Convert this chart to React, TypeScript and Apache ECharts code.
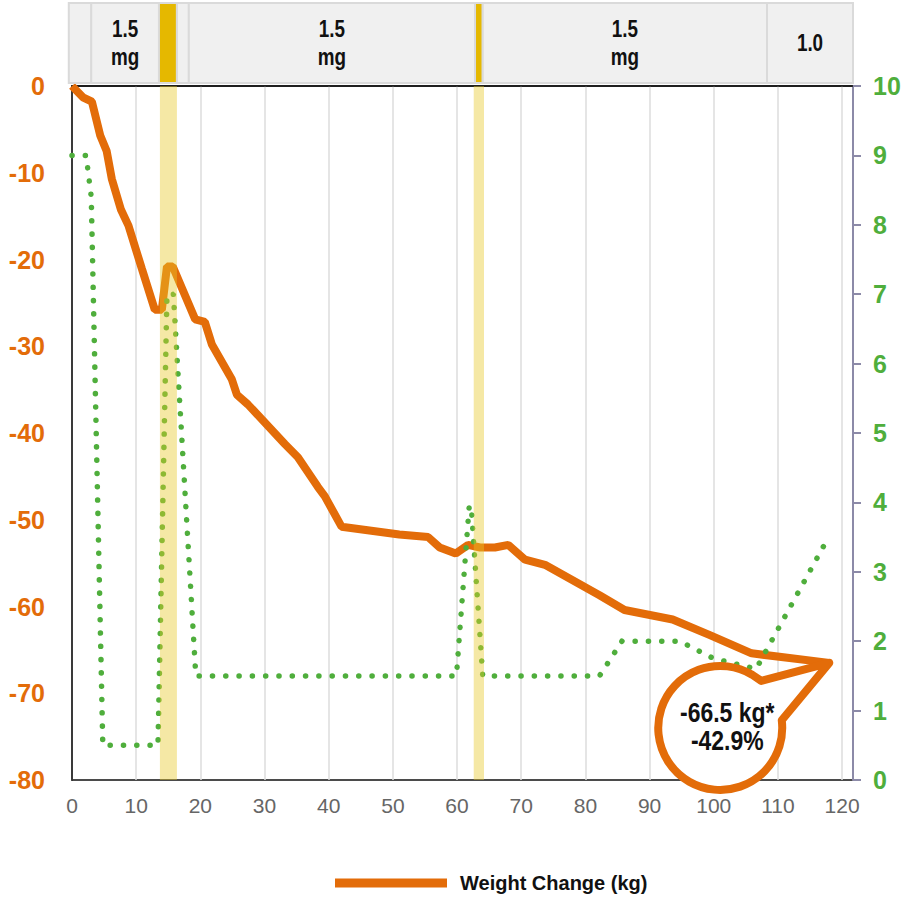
import React, { useEffect, useRef } from "react";
import * as echarts from "echarts";

const FONT = '"Liberation Sans", Arial, sans-serif';
const ORANGE = "#e36c09";
const GREEN = "#4fae3c";
const NARROW = 0.82;

// Weight change (kg) – left axis
const weightX = [0, 1.7, 3.1, 4.4, 5.4, 6.2, 7.6, 8.8, 10.9, 12.9, 14.0, 14.8, 15.7, 19.2, 20.7, 21.8, 24.9, 25.7, 27.4, 33.2, 35.2, 38.3, 39.4, 42.0, 51.0, 55.5, 57.3, 59.8, 61.7, 63.6, 65.9, 68.0, 70.6, 73.7, 82.2, 86.1, 93.6, 99.4, 105.9, 118.0];
const weightY = [0, -1.3, -1.8, -5.7, -7.5, -10.7, -14.2, -16.1, -21.1, -25.8, -25.8, -20.8, -20.8, -26.9, -27.2, -29.8, -33.8, -35.6, -36.7, -41.3, -42.8, -46.2, -47.3, -50.8, -51.7, -52.0, -53.2, -53.9, -52.9, -53.2, -53.2, -52.9, -54.6, -55.2, -58.7, -60.4, -61.5, -63.3, -65.4, -66.5];

// Secondary (right axis 0–10) dotted series
const doseX = [0, 2.2, 3.0, 4.8, 13.4, 14.8, 15.8, 19.3, 59.9, 61.9, 62.2, 64.0, 82.2, 85.7, 94.7, 100.0, 106.6, 117.3];
const doseY = [9.0, 9.0, 8.4, 0.5, 0.5, 7.0, 7.0, 1.5, 1.5, 3.95, 3.95, 1.5, 1.5, 2.0, 2.0, 1.75, 1.6, 3.4];

// Header cells
const headerStarts = [-0.5, 3.0, 13.55, 16.35, 18.2, 62.8, 64.0, 108.3];
const headerEnds = [3.0, 13.55, 16.35, 18.2, 62.8, 64.0, 108.3, 121.7];
const headerLabels = ["", "1.5\nmg", "", "", "1.5\nmg", "", "1.5\nmg", "1.0"];
const headerKinds = ["dose", "dose", "switch", "dose", "dose", "switch", "dose", "dose"];

// Highlight bands
const bandStarts = [13.7, 62.6];
const bandEnds = [16.35, 64.2];

// Callout
const calloutPoint = [118, -66.5];
const calloutLines = ["-66.5 kg*", "-42.9%"];

const X_MAX = 121.7;
const leftTicks = [0, -10, -20, -30, -40, -50, -60, -70, -80];

const CALLOUT_D = "M 0 0 L -47.5 57.4 A 62 62 0 1 1 -77.1 11.9 L -68 18 Z";

export default function App() {
  const ref = useRef<HTMLDivElement>(null);
  useEffect(() => {
    if (!ref.current) return;
    const chart = echarts.init(ref.current, undefined, { renderer: "svg" });
    const weightData = weightX.map((x, i) => [x, weightY[i]]);
    const doseData = doseX.map((x, i) => [x, doseY[i]]);
    const headerData = headerStarts.map((s, i) => [s, headerEnds[i]]);
    const bandData = bandStarts.map((s, i) => [s, bandEnds[i]]);

    chart.setOption({
      animation: false,
      backgroundColor: "#fff",
      grid: [
        { left: 72, right: 57, top: 86, bottom: 120, show: true, borderColor: "#111", borderWidth: 1.5, backgroundColor: "transparent" },
        { left: 72, right: 57, top: 3, height: 80, show: false },
      ],
      legend: {
        data: ["Weight Change (kg)"],
        left: 335,
        top: 873,
        padding: 0,
        icon: "rect",
        itemWidth: 112,
        itemHeight: 9,
        itemGap: 10,
        textStyle: { fontFamily: FONT, fontWeight: "bold", fontSize: 20, color: "#111", padding: [0, 0, 0, 8] },
      },
      xAxis: [
        {
          type: "value",
          gridIndex: 0,
          min: 0,
          max: X_MAX,
          interval: 10,
          axisLine: { show: true, lineStyle: { color: "#111", width: 1.5 } },
          axisTick: { show: false },
          axisLabel: {
            margin: 15,
            color: "#666",
            fontFamily: FONT,
            fontSize: 21,
            formatter: (v: number) => (Math.abs(v % 10) < 1e-6 ? String(v) : ""),
          },
          splitLine: { show: true, lineStyle: { color: "#dcdcdc", width: 1.5 } },
        },
        { type: "value", gridIndex: 1, min: 0, max: X_MAX, show: false },
      ],
      yAxis: [
        {
          type: "value",
          gridIndex: 0,
          min: -80,
          max: 0,
          interval: 10,
          position: "left",
          axisLine: { show: true, lineStyle: { color: "#111", width: 1.5 } },
          axisTick: { show: false },
          splitLine: { show: false },
          axisLabel: {
            margin: 27,
            color: ORANGE,
            fontWeight: "bold",
            fontFamily: FONT,
            fontSize: 25,
            formatter: (v: number) => (leftTicks.indexOf(v) >= 0 ? String(v) : ""),
          },
        },
        {
          type: "value",
          gridIndex: 0,
          min: 0,
          max: 10,
          interval: 1,
          position: "right",
          axisLine: { show: true, lineStyle: { color: "#8c8aa8", width: 2 } },
          axisTick: { show: true, length: 8, lineStyle: { color: "#8c8aa8", width: 2 } },
          splitLine: { show: false },
          axisLabel: { margin: 20, color: "#4fae3c", fontWeight: "bold", fontFamily: FONT, fontSize: 25 },
        },
        { type: "value", gridIndex: 1, min: 0, max: 1, show: false },
      ],
      series: [
        {
          name: "Weight Change (kg)",
          type: "line",
          xAxisIndex: 0,
          yAxisIndex: 0,
          data: weightData,
          showSymbol: false,
          symbol: "none",
          lineStyle: { color: ORANGE, width: 8 },
          itemStyle: { color: ORANGE },
          z: 2,
        },
        {
          name: "dose",
          type: "line",
          xAxisIndex: 0,
          yAxisIndex: 1,
          data: doseData,
          showSymbol: false,
          symbol: "none",
          lineStyle: { color: GREEN, width: 5.5, type: [0.1, 13.2], cap: "round" },
          z: 3,
        },
        {
          name: "bands",
          type: "custom",
          xAxisIndex: 0,
          yAxisIndex: 0,
          data: bandData,
          z: 10,
          renderItem: (params: any, api: any) => {
            const p0 = api.coord([api.value(0), 0]);
            const p1 = api.coord([api.value(1), -80]);
            return {
              type: "rect",
              shape: { x: p0[0], y: p0[1], width: p1[0] - p0[0], height: p1[1] - p0[1] },
              style: { fill: "rgba(232,200,40,0.42)" },
            };
          },
        },
        {
          name: "callout",
          type: "custom",
          xAxisIndex: 0,
          yAxisIndex: 0,
          data: [calloutPoint],
          z: 12,
          renderItem: (params: any, api: any) => {
            const p = api.coord([api.value(0), api.value(1)]);
            return {
              type: "group",
              x: p[0],
              y: p[1],
              children: [
                {
                  type: "path",
                  shape: { pathData: CALLOUT_D },
                  style: { fill: "#fff", stroke: ORANGE, lineWidth: 8, lineJoin: "round" },
                },
                {
                  type: "text",
                  x: -102,
                  y: 63,
                  scaleX: NARROW,
                  style: {
                    text: calloutLines.join("\n"),
                    x: 0,
                    y: 0,
                    align: "center",
                    verticalAlign: "middle",
                    fontFamily: FONT,
                    fontWeight: "bold",
                    fontSize: 28,
                    lineHeight: 28,
                    fill: "#111",
                  },
                },
              ],
            };
          },
        },
        {
          name: "header",
          type: "custom",
          xAxisIndex: 1,
          yAxisIndex: 2,
          data: headerData,
          z: 5,
          renderItem: (params: any, api: any) => {
            const i = params.dataIndex;
            const p0 = api.coord([api.value(0), 1]);
            const p1 = api.coord([api.value(1), 0]);
            const fill = headerKinds[i] === "switch" ? "#e5b800" : "#f0f0f0";
            return {
              type: "group",
              children: [
                {
                  type: "rect",
                  shape: { x: p0[0], y: p0[1], width: p1[0] - p0[0], height: p1[1] - p0[1] },
                  style: { fill, stroke: "#dadada", lineWidth: 2 },
                },
                {
                  type: "text",
                  x: (p0[0] + p1[0]) / 2,
                  y: (p0[1] + p1[1]) / 2,
                  scaleX: NARROW,
                  style: {
                    text: headerLabels[i],
                    x: 0,
                    y: 0,
                    align: "center",
                    verticalAlign: "middle",
                    fontFamily: FONT,
                    fontWeight: "bold",
                    fontSize: 23,
                    lineHeight: 28,
                    fill: "#111",
                  },
                },
              ],
            };
          },
        },
      ],
    });
    return () => chart.dispose();
  }, []);
  return <div ref={ref} style={{ position: "absolute", left: 0, top: 0, width: 910, height: 900 }} />;
}
